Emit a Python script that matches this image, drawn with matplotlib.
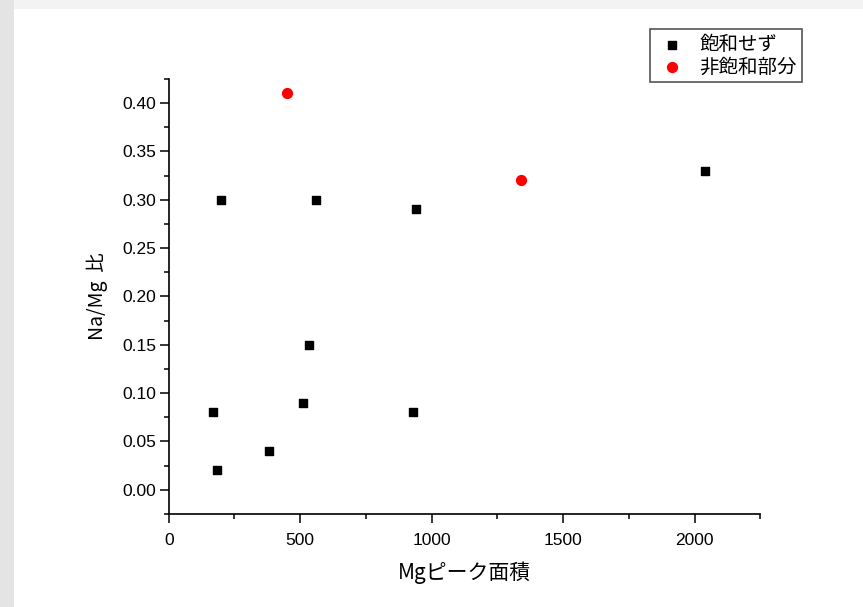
import matplotlib.pyplot as plt
from matplotlib.patches import Rectangle
from matplotlib.ticker import MultipleLocator, FormatStrFormatter

plt.rcParams['font.family'] = ['Noto Sans CJK JP', 'DejaVu Sans']

# 飽和せず
x_sat = [200, 560, 940, 2040, 535, 510, 170, 930, 380, 185]
y_sat = [0.30, 0.30, 0.29, 0.33, 0.15, 0.09, 0.08, 0.08, 0.04, 0.02]
# 非飽和部分
x_part = [450, 1340]
y_part = [0.41, 0.32]

fig = plt.figure(figsize=(8.63, 6.07), dpi=100, facecolor='#f3f3f3')
# 左の灰色の帯と白い面
fig.patches.append(Rectangle((0, 0), 14 / 863, 1, transform=fig.transFigure,
                             facecolor='#e4e4e4', edgecolor='none', zorder=-10))
fig.patches.append(Rectangle((14 / 863, 0), 1, 1 - 9 / 607, transform=fig.transFigure,
                             facecolor='white', edgecolor='none', zorder=-10))

ax = fig.add_axes([0.1955, 0.1532, 0.6855, 0.7168])
ax.set_zorder(1)
ax.set_facecolor('none')

ax.scatter(x_sat, y_sat, marker='s', s=34, color='black', label='飽和せず', zorder=3)
ax.scatter(x_part, y_part, marker='o', s=50, color='red', label='非飽和部分', zorder=3)

ax.set_xlim(0, 2250)
ax.set_ylim(-0.025, 0.425)
ax.xaxis.set_major_locator(MultipleLocator(500))
ax.xaxis.set_minor_locator(MultipleLocator(250))
ax.yaxis.set_major_locator(MultipleLocator(0.05))
ax.yaxis.set_minor_locator(MultipleLocator(0.025))
ax.yaxis.set_major_formatter(FormatStrFormatter('%.2f'))

for s in ['top', 'right']:
    ax.spines[s].set_visible(False)
for s in ['left', 'bottom']:
    ax.spines[s].set_linewidth(1.2)

ax.tick_params(which='major', direction='out', length=6.5, width=1.1)
ax.tick_params(which='minor', direction='out', length=3.8, width=1.1)
ax.tick_params(axis='y', labelsize=12.5, pad=2.5)
ax.tick_params(axis='x', labelsize=12.5, pad=7)
for lab in ax.get_yticklabels():
    lab.set_fontfamily(['Liberation Sans', 'DejaVu Sans'])
for lab in ax.get_xticklabels():
    lab.set_fontfamily(['Liberation Sans', 'DejaVu Sans'])

ax.set_xlabel('Mgピーク面積', fontsize=15, labelpad=10)
ax.set_ylabel('Na/Mg  比', fontsize=14, labelpad=10)

leg = ax.legend(loc='upper left', bbox_to_anchor=(650 / 863, 1 - 29 / 607),
                bbox_transform=fig.transFigure, fontsize=14, frameon=True,
                fancybox=False, edgecolor='#555555', framealpha=1,
                handletextpad=0.5, borderpad=0.25, labelspacing=0.08,
                handlelength=1.8, borderaxespad=0)
leg.get_frame().set_linewidth(1.2)

fig.savefig('out.png', dpi=100, facecolor=fig.get_facecolor())
